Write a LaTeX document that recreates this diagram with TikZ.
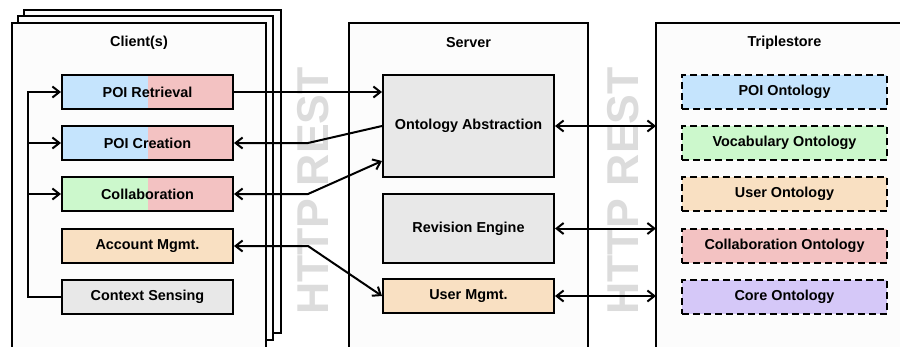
\documentclass[tikz,border=0pt]{standalone}
\usepackage{fontspec}
\setmainfont{Liberation Sans}
\usetikzlibrary{arrows.meta,calc}
\definecolor{cblue}{HTML}{C5E4FD}
\definecolor{cpink}{HTML}{F3C2C2}
\definecolor{cgreen}{HTML}{CCF8CC}
\definecolor{corange}{HTML}{F9E0C2}
\definecolor{cgrey}{HTML}{E8E8E8}
\definecolor{cpurple}{HTML}{D5C8F8}
\definecolor{cpanel}{HTML}{FCFCFC}
\definecolor{cwater}{HTML}{DCDCDC}
\begin{document}
\begin{tikzpicture}[x=1pt,y=-1pt,
  >={Straight Barb[length=7pt,width=11pt]},
  lbl/.style={font=\bfseries\fontsize{14.4}{16}\selectfont},
  panel/.style={draw=black,line width=2pt,fill=cpanel},
  comp/.style={draw=black,line width=2pt,minimum width=171pt,minimum height=34pt,inner sep=0pt,lbl},
  onto/.style={draw=black,line width=2pt,dash pattern=on 7pt off 4pt,minimum width=205pt,minimum height=34pt,inner sep=0pt,lbl},
  split/.style 2 args={path picture={
      \fill[#1] (path picture bounding box.south west) rectangle (path picture bounding box.north);
      \fill[#2] (path picture bounding box.south) rectangle (path picture bounding box.north east);}},
  conn/.style={line width=2pt},
  water/.style={rotate=90,text=cwater,font=\bfseries\fontsize{44.6}{46}\selectfont,inner sep=0pt}
]
\clip (0,0) rectangle (900,346);
\fill[white] (0,0) rectangle (900,346);

% stacked client panels
\draw[panel] (24,10) rectangle (281,333);
\draw[panel] (18,16) rectangle (273,340);
\draw[panel] (12,23) rectangle (266,380);
% server and triplestore panels
\draw[panel] (349,23) rectangle (588,380);
\draw[panel] (656,23) rectangle (940,380);

% protocol watermarks
\node[water] (rest1) at (313,191) {HTTP REST};
\node[water] (rest2) at (623,191) {HTTP REST};

% panel titles
\node[lbl] (tclient) at (139,43) {Client(s)};
\node[lbl] (tserver) at (468.5,43) {Server};
\node[lbl] (tstore) at (784.5,43) {Triplestore};

% client components
\node[comp,split={cblue}{cpink}] (ret) at (147.5,92) {POI Retrieval};
\node[comp,split={cblue}{cpink}] (cre) at (147.5,143) {POI Creation};
\node[comp,split={cgreen}{cpink}] (col) at (147.5,194) {Collaboration};
\node[comp,fill=corange] (acc) at (147.5,246) {Account Mgmt.};
\node[comp,fill=cgrey] (ctx) at (147.5,297) {Context Sensing};

% server components
\node[comp,fill=cgrey,minimum height=102pt] (oa) at (468.5,126) {Ontology Abstraction};
\node[comp,fill=cgrey,minimum height=69pt] (rev) at (468.5,228.5) {Revision Engine};
\node[comp,fill=corange] (um) at (468.5,296) {User Mgmt.};

% ontologies
\node[onto,fill=cblue] (o1) at (784.5,92) {POI Ontology};
\node[onto,fill=cgreen] (o2) at (784.5,143) {Vocabulary Ontology};
\node[onto,fill=corange] (o3) at (784.5,194) {User Ontology};
\node[onto,fill=cpink] (o4) at (784.5,246) {Collaboration Ontology};
\node[onto,fill=cpurple] (o5) at (784.5,297) {Core Ontology};

% triplestore entry points
\coordinate (ts1) at (656,126);
\coordinate (ts2) at (656,228.5);
\coordinate (ts3) at (656,296);

% context sensing feeds
\coordinate (bus) at (28,297);
\draw[conn,->] (ctx.west) -- (bus) -- (bus |- ret.west) -- (ret.west);
\draw[conn,->] (bus |- cre.west) -- (cre.west);
\draw[conn,->] (bus |- col.west) -- (col.west);

% client <-> server
\coordinate (k1) at (308,143);
\coordinate (k2) at (308,194);
\coordinate (k3) at (308,246);
\draw[conn,->] (ret.east) -- (oa.west |- ret.east);
\draw[conn,->] (oa.west) -- (k1) -- (cre.east);
\draw[conn,<->] (col.east) -- (k2) -- ([yshift=17pt]oa.south west);
\draw[conn,<->] (acc.east) -- (k3) -- (um.west);

% server <-> triplestore
\draw[conn,<->] (oa.east) -- (ts1);
\draw[conn,<->] (rev.east) -- (ts2);
\draw[conn,<->] (um.east) -- (ts3);
\end{tikzpicture}
\end{document}
